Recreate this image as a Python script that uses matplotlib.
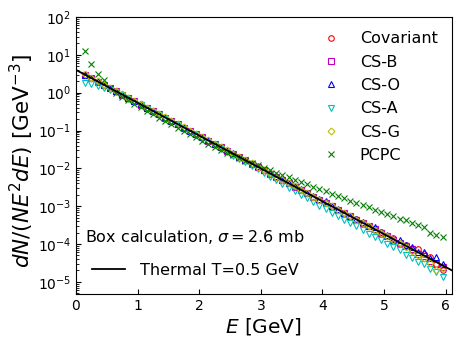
import numpy as np
import matplotlib
matplotlib.use("Agg")
import matplotlib.pyplot as plt
from matplotlib.ticker import LogLocator, NullFormatter

# energy bins (GeV)
energy = [round(0.15 + 0.1 * i, 2) for i in range(59)]

covariant = [2.92, 2.40, 1.97, 1.62, 1.32, 1.08, 0.885, 0.728, 0.596, 0.488,
             0.399, 0.327, 0.268, 0.219, 0.179, 0.147, 0.120, 0.0985, 0.0806, 0.0660,
             0.0540, 0.0442, 0.0362, 0.0296, 0.0243, 0.0199, 0.0162, 0.0133, 0.0109, 0.00890,
             0.00735, 0.00598, 0.00490, 0.00405, 0.00328, 0.00268, 0.00223, 0.00180, 0.00149, 0.00120,
             0.00100, 0.000810, 0.000670, 0.000545, 0.000450, 0.000362, 0.000305, 0.000240, 0.000205, 0.000160,
             0.000140, 0.000108, 9.6e-5, 7.0e-5, 7.4e-5, 5.4e-5, 4.5e-5, 3.0e-5, 2.1e-5]

cs_b = [2.85, 2.38, 1.95, 1.60, 1.31, 1.08, 0.880, 0.725, 0.592, 0.486,
        0.398, 0.325, 0.267, 0.218, 0.179, 0.146, 0.120, 0.0980, 0.0805, 0.0658,
        0.0540, 0.0440, 0.0361, 0.0295, 0.0242, 0.0198, 0.0162, 0.0132, 0.0109, 0.00888,
        0.00728, 0.00595, 0.00488, 0.00400, 0.00325, 0.00268, 0.00218, 0.00180, 0.00146, 0.00120,
        0.000985, 0.000805, 0.000660, 0.000540, 0.000440, 0.000360, 0.000295, 0.000242, 0.000198, 0.000162,
        0.000128, 0.000108, 8.8e-5, 7.5e-5, 5.6e-5, 4.8e-5, 3.6e-5, 2.9e-5, 2.5e-5]

cs_o = [3.00, 2.45, 2.00, 1.64, 1.34, 1.10, 0.900, 0.735, 0.602, 0.493,
        0.404, 0.331, 0.271, 0.222, 0.182, 0.149, 0.122, 0.0998, 0.0818, 0.0670,
        0.0548, 0.0450, 0.0368, 0.0302, 0.0247, 0.0203, 0.0166, 0.0136, 0.0112, 0.00910,
        0.00750, 0.00612, 0.00500, 0.00412, 0.00345, 0.00276, 0.00225, 0.00185, 0.00152, 0.00140,
        0.00102, 0.000835, 0.000680, 0.000560, 0.000460, 0.000375, 0.000300, 0.000290, 0.000205, 0.000170,
        0.000138, 0.000130, 9.2e-5, 8.5e-5, 6.2e-5, 6.0e-5, 4.2e-5, 4.6e-5, 3.0e-5]

cs_a = [1.75, 1.65, 1.48, 1.36, 1.20, 1.02, 0.845, 0.695, 0.568, 0.465,
        0.380, 0.310, 0.254, 0.207, 0.169, 0.139, 0.113, 0.0925, 0.0755, 0.0610,
        0.0500, 0.0404, 0.0328, 0.0268, 0.0217, 0.0176, 0.0143, 0.0117, 0.00946, 0.00753,
        0.00602, 0.00481, 0.00389, 0.00310, 0.00251, 0.00200, 0.00161, 0.00130, 0.00104, 0.000835,
        0.000677, 0.000553, 0.000440, 0.000360, 0.000291, 0.000234, 0.000189, 0.000154, 0.000125, 0.000102,
        8.1e-5, 6.8e-5, 5.2e-5, 4.4e-5, 3.4e-5, 2.9e-5, 2.2e-5, 1.86e-5, 1.36e-5]

cs_g = [3.05, 2.45, 2.00, 1.64, 1.34, 1.09, 0.895, 0.733, 0.600, 0.491,
        0.402, 0.329, 0.270, 0.221, 0.181, 0.148, 0.121, 0.0992, 0.0812, 0.0665,
        0.0545, 0.0446, 0.0365, 0.0299, 0.0245, 0.0201, 0.0164, 0.0135, 0.0110, 0.00900,
        0.00738, 0.00600, 0.00495, 0.00400, 0.00332, 0.00268, 0.00222, 0.00180, 0.00148, 0.00120,
        0.000990, 0.000805, 0.000660, 0.000540, 0.000440, 0.000362, 0.000295, 0.000240, 0.000195, 0.000160,
        0.000128, 0.000105, 8.2e-5, 6.5e-5, 5.0e-5, 4.2e-5, 3.2e-5, 2.1e-5, 2.3e-5]

pcpc = [12.6, 5.8, 3.2, 2.1, 1.32, 1.0, 0.79, 0.645, 0.51, 0.41,
        0.33, 0.27, 0.22, 0.178, 0.145, 0.120, 0.098, 0.080, 0.066, 0.054,
        0.0447, 0.0372, 0.0309, 0.0257, 0.0219, 0.0186, 0.0158, 0.0138, 0.0120, 0.0105,
        0.00900, 0.00770, 0.00680, 0.00590, 0.00505, 0.00440, 0.00385, 0.00330, 0.00290, 0.00255,
        0.00215, 0.00190, 0.00165, 0.00140, 0.00125, 0.00108, 0.00093, 0.00081, 0.00070, 0.00062,
        0.00054, 0.00047, 0.00042, 0.00036, 0.00031, 0.00028, 0.00019, 0.000175, 0.000155]

# thermal (Boltzmann, massless) reference, T in GeV
T_THERMAL = 0.5

series = [
    ("Covariant", covariant, "o", "r"),
    ("CS-B", cs_b, "s", "m"),
    ("CS-O", cs_o, "^", "b"),
    ("CS-A", cs_a, "v", "c"),
    ("CS-G", cs_g, "D", "y"),
    ("PCPC", pcpc, "x", "g"),
]

fig = plt.figure(figsize=(4.63, 3.47), dpi=100)
ax = fig.add_axes([0.164, 0.153, 0.812, 0.798])

handles = []
for label, vals, marker, color in series:
    h, = ax.plot(energy, vals, linestyle="none", marker=marker, color=color,
                 mfc="none", ms=4 if marker != "D" else 3.5, mew=0.8, label=label)
    handles.append(h)

e_line = np.linspace(0, 6.1, 200)
thermal = np.exp(-e_line / T_THERMAL) / (2 * T_THERMAL ** 3)
line, = ax.plot(e_line, thermal, color="k", lw=1.3, label="Thermal T=0.5 GeV")

ax.set_yscale("log")
ax.set_xlim(0, 6.1)
ax.set_ylim(4.8e-6, 1e2)
ax.set_xticks([0, 1, 2, 3, 4, 5, 6])
ax.yaxis.set_major_locator(LogLocator(base=10, numticks=20))
ax.yaxis.set_minor_locator(LogLocator(base=10, subs=np.arange(2, 10), numticks=20))
ax.yaxis.set_minor_formatter(NullFormatter())
ax.tick_params(which="both", direction="in", labelsize=10)
ax.tick_params(which="minor", length=2.5)
ax.tick_params(axis="x", which="minor", bottom=False)

ax.set_xlabel("$E$ [GeV]", fontsize=14.5, labelpad=2)
ax.set_ylabel("$dN/(NE^2dE)$ [GeV$^{-3}$]", fontsize=15.5)
ax.yaxis.set_label_coords(-0.105, 0.48)

leg1 = ax.legend(handles=handles, loc="upper right", frameon=False,
                 fontsize=11.5, handlelength=2.0, handletextpad=0.8,
                 labelspacing=0.52, numpoints=1, borderaxespad=0.5)
ax.add_artist(leg1)
ax.legend(handles=[line], loc="lower left", frameon=False, fontsize=11.5,
          handlelength=2.1, handletextpad=0.9, borderaxespad=0.6)

ax.text(0.025, 0.205, r"Box calculation, $\sigma=2.6$ mb", transform=ax.transAxes,
        fontsize=11.5, va="center", ha="left")

fig.savefig("out.png", dpi=100)
